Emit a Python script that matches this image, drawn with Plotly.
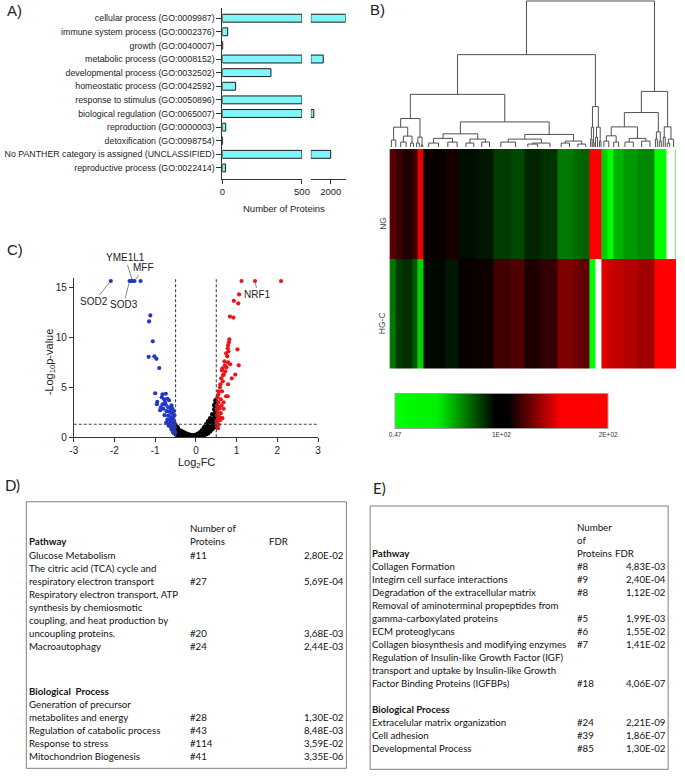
import math

import plotly.graph_objects as go

W, H = 685, 777
ARIAL = "Liberation Sans, Arial, sans-serif"
CALIBRI = "Lato, Carlito, sans-serif"
INK = "#222222"


def fx(p):
    return p / W


def fy(p):
    return 1 - p / H


# ---------------- A) GO biological process counts ----------------
go_terms = [
    "cellular process (GO:0009987)",
    "immune system process (GO:0002376)",
    "growth (GO:0040007)",
    "metabolic process (GO:0008152)",
    "developmental process (GO:0032502)",
    "homeostatic process (GO:0042592)",
    "response to stimulus (GO:0050896)",
    "biological regulation (GO:0065007)",
    "reproduction (GO:0000003)",
    "detoxification (GO:0098754)",
    "No PANTHER category is assigned (UNCLASSIFIED)",
    "reproductive process (GO:0022414)",
]
go_counts = [2150, 33, 2, 1925, 305, 83, 1250, 1830, 21, 1, 2000, 19]
break_low, break_high, axis_top = 500, 1800, 2150

# ---------------- B) heatmap + dendrogram ----------------
block_leaves = [6, 7, 10, 6, 6, 22, 13, 20, 16, 17, 15, 16, 17, 16, 8, 9,
                6, 6, 6, 6, 10, 15, 17, 8, 4, 9, 1]
ng_values = [124, 118, 112, 119, 150, 108, 111, 91, 89, 81, 78, 86, 83, 67, 70, 72,
             200, 200, 47, 5, 54, 60, 64, 0.47, 0.47, None, 10]
hgc_values = [67, 81, 84, 74, 47, 93, 89, 108, 109, 119, 122, 112, 116, 131, 128, 125,
              0.47, None, 150, 146, 144, 141, 138, 200, 200, 200, 200]
row_labels = ["NG", "HG-C"]
# nested [height, left, right]; an int is a leaf cluster of that many columns
dendro_tree = [147,
               [93,
                [53,
                 [28.7,
                  [20, [7, 4, 5], [11, [5, 5, 6], [4, 3, 3]]],
                  [10, [4, 3, 3], [2, 1, 2]]],
                 [25.3,
                  [13.3, [8.7, [4, 10, 10], [5, 9, 10]], [8, [4, 8, 8], [5, 8, 8]]],
                  [12.7, [8, [5, 15, 15], [4, [3, 10, 10], 15]], [6, [4, 8, 9], [3, 8, 8]]]]],
                [40.7, [20, [8, 2, 1], [5, 1, 1]], [20, [10, 2, 2], [6, 2, 1]]]],
               [56,
                [34.7,
                 [20.3, [11.3, [6, 5, 5], [5, 5, 5]], [8.7, [5, 8, 9], [6, 8, 9]]],
                 [15.3, [8, 2, 2], [6, 2, 2]]],
                [20.3, [10, 2, 2], [8, [4, 2, 3], 5]]]]
scale_ticks = [0.47, 100, 200]
scale_labels = ["0.47", "1E+02", "2E+02"]

# ---------------- C) volcano ----------------
fc_cut = 0.5
p_cut = 0.05
down_fc = [-2.09, -1.63, -1.59, -1.56, -1.51, -1.36, -1.12, -1.15, -1.06, -1.16, -1.02, -0.97,
           -0.90, -1.00, -0.95, -0.96, -0.82, -0.74, -0.84, -0.78, -0.70, -0.66, -0.82, -0.74,
           -0.68, -0.62, -0.80, -0.72, -0.65, -0.59, -0.77, -0.68, -0.61, -0.56, -0.70, -0.63,
           -0.57, -0.53, -0.73, -0.64, -0.58, -0.54, -0.67, -0.61, -0.54, -0.56, -0.52, -0.60,
           -0.58, -0.60, -0.55, -0.53, -0.52, -0.51, -0.55, -0.86, -0.88, -0.76]
down_p = [15.65, 15.65, 15.65, 15.65, 15.65, 15.65, 12.2, 11.6, 9.6, 8.05, 8.1, 7.85,
          6.93, 4.4, 3.53, 3.3, 4.3, 4.35, 4.0, 3.8, 3.85, 3.7, 3.3, 3.25,
          3.0, 2.85, 2.85, 2.6, 2.55, 2.4, 2.2, 2.15, 2.0, 1.9, 1.75, 1.7,
          1.6, 1.5, 1.45, 1.4, 1.3, 1.2, 1.15, 1.0, 0.9, 0.7, 0.55, 0.75,
          2.9, 3.2, 2.6, 2.2, 1.0, 0.4, 0.45, 3.0, 2.7, 3.5]
up_fc = [1.12, 1.45, 2.09, 1.06, 0.93, 1.04, 0.835, 0.92, 0.82, 0.81, 0.79, 0.78, 0.80, 0.74,
         0.77, 1.02, 0.70, 0.65, 0.71, 0.79, 1.05, 0.965, 0.88, 0.62, 0.66, 0.79, 0.59, 0.56,
         0.64, 0.74, 0.55, 0.53, 0.61, 0.68, 0.55, 0.52, 0.63, 0.58, 0.68, 0.53, 0.61, 0.52,
         0.58, 0.65, 0.53, 0.59, 0.52, 0.56, 0.52, 0.55, 0.78, 0.72, 0.68, 0.60, 0.57, 0.51,
         0.51, 0.54, 0.67, 0.64, 0.84, 0.75]
up_p = [15.65, 15.65, 15.65, 14.3, 13.66, 13.4, 12.08, 11.98, 9.8, 9.5, 9.2, 8.9, 8.6, 8.4,
        8.1, 8.8, 7.6, 6.9, 7.2, 7.5, 7.2, 6.27, 5.9, 5.9, 5.6, 5.3, 5.0, 4.6,
        4.6, 4.1, 4.3, 4.0, 3.8, 3.5, 3.5, 3.2, 3.2, 2.85, 2.85, 2.5, 2.4, 2.2,
        2.0, 1.9, 1.75, 1.7, 1.4, 1.25, 1.1, 1.9, 4.1, 6.6, 6.3, 5.3, 3.0, 2.8,
        1.6, 0.9, 6.2, 6.7, 7.3, 7.0]
ns_fc = [-0.55, -0.55, -0.55, -0.50, -0.50, -0.50, -0.50, -0.45, -0.45, -0.45, -0.45,
         -0.40, -0.40, -0.40, -0.35, -0.35, -0.35, -0.30, -0.30, -0.30, -0.25, -0.25, -0.25,
         -0.20, -0.20, -0.20, -0.15, -0.15, -0.15, -0.10, -0.10, -0.10, -0.05, -0.05, -0.05,
         0.00, 0.00, 0.00, 0.05, 0.05, 0.05, 0.10, 0.10, 0.10, 0.15, 0.15, 0.15,
         0.20, 0.20, 0.20, 0.20, 0.25, 0.25, 0.25, 0.25, 0.30, 0.30, 0.30, 0.30,
         0.35, 0.35, 0.35, 0.35, 0.40, 0.40, 0.40, 0.40, 0.45, 0.45, 0.45, 0.45, 0.45,
         0.48, 0.48, 0.48, 0.48, 0.48, 0.50, 0.50, 0.50]
ns_p = [0.5, 0.9, 1.1, 0.3, 0.6, 0.9, 1.2, 0.2, 0.5, 0.8, 1.0,
        0.1, 0.4, 0.7, 0.05, 0.3, 0.6, 0.02, 0.25, 0.5, 0.01, 0.2, 0.4,
        0.0, 0.15, 0.3, 0.0, 0.12, 0.25, 0.0, 0.1, 0.2, 0.0, 0.1, 0.2,
        0.02, 0.12, 0.25, 0.04, 0.2, 0.35, 0.08, 0.3, 0.5, 0.12, 0.4, 0.7,
        0.2, 0.5, 0.8, 1.0, 0.3, 0.7, 1.0, 1.3, 0.4, 0.8, 1.2, 1.6,
        0.6, 1.0, 1.5, 1.9, 0.8, 1.3, 1.8, 2.3, 1.0, 1.6, 2.2, 2.8, 3.2,
        1.3, 2.0, 2.6, 3.4, 3.7, 1.5, 2.4, 3.0]
gene_names = ["SOD2", "SOD3", "YME1L1", "MFF", "NRF1"]
gene_fc = [-2.09, -1.63, -1.56, -1.51, 1.45]
gene_p = [15.65, 15.65, 15.65, 15.65, 15.65]

# ---------------- D) / E) enrichment tables ----------------
d_path_names = ["Glucose Metabolism",
                "The citric acid (TCA) cycle and\nrespiratory electron transport",
                "Respiratory electron transport, ATP\nsynthesis by chemiosmotic\n"
                "coupling, and heat production by\nuncoupling proteins.",
                "Macroautophagy"]
d_path_counts = ["#11", "#27", "#20", "#24"]
d_path_fdr = ["2,80E-02", "5,69E-04", "3,68E-03", "2,44E-03"]
d_proc_names = ["Generation of precursor\nmetabolites and energy",
                "Regulation of catabolic process", "Response to stress",
                "Mitochondrion Biogenesis"]
d_proc_counts = ["#28", "#43", "#114", "#41"]
d_proc_fdr = ["1,30E-02", "8,48E-03", "3,59E-02", "3,35E-06"]

e_path_names = ["Collagen Formation", "Integirn cell surface interactions",
                "Degradation of the extracellular matrix",
                "Removal of aminoterminal propeptides from\ngamma-carboxylated proteins",
                "ECM proteoglycans", "Collagen biosynthesis and modifying enzymes",
                "Regulation of Insulin-like Growth Factor (IGF)\ntransport and uptake by Insulin-like Growth\n"
                "Factor Binding Proteins (IGFBPs)"]
e_path_counts = ["#8", "#9", "#8", "#5", "#6", "#7", "#18"]
e_path_fdr = ["4,83E-03", "2,40E-04", "1,12E-02", "1,99E-03", "1,55E-02", "1,41E-02", "4,06E-07"]
e_proc_names = ["Extracelular matrix organization", "Cell adhesion", "Developmental Process"]
e_proc_counts = ["#24", "#39", "#85"]
e_proc_fdr = ["2,21E-09", "1,86E-07", "1,30E-02"]

fig = go.Figure()
ann = []
shapes = []


def label(text, x, y, size, family=ARIAL, color=INK, angle=0, xanchor="center"):
    # paper-pixel positioned text; anchors set explicitly so 'auto' never shifts it
    ann.append(dict(text=text, x=fx(x), y=fy(y), xref="paper", yref="paper", xanchor=xanchor,
                    yanchor="middle", textangle=angle, showarrow=False, borderpad=0,
                    font=dict(family=family, size=size, color=color)))


# ---- A) broken-axis bar chart
bar_style = dict(color="#80f6fb", line=dict(color="#1a1a1a", width=1))
fig.add_trace(go.Bar(x=[min(v, break_low) for v in go_counts], y=go_terms, orientation="h",
                     xaxis="x", yaxis="y", width=0.58, marker=bar_style, hoverinfo="skip"))
fig.add_trace(go.Bar(x=[min(v, axis_top) - break_high if v > break_high else None for v in go_counts],
                     y=go_terms, base=break_high, orientation="h", xaxis="x2", yaxis="y",
                     width=0.58, marker=bar_style, hoverinfo="skip"))
label("Number of Proteins", 285, 210, 9.5)

# ---- B) dendrogram
seg_x, seg_y = [], []


def walk(node, start):
    if not isinstance(node, list):
        return start + node / 2, 0.0, start + node
    h, left, right = node
    xl, hl, nxt = walk(left, start)
    xr, hr, nxt = walk(right, nxt)
    seg_x.extend([xl, xl, xr, xr, None])
    seg_y.extend([hl, h, h, hr, None])
    return (xl + xr) / 2, h, nxt


walk(dendro_tree, 0)
n_leaves = sum(block_leaves)
fig.add_trace(go.Scatter(x=seg_x, y=seg_y, mode="lines", xaxis="x3", yaxis="y2",
                         line=dict(color="#505050", width=1), hoverinfo="skip"))

edges = [0]
for n in block_leaves:
    edges.append(edges[-1] + n)
fig.add_trace(go.Heatmap(
    z=[ng_values, hgc_values], x=edges, y=[0, 1], xaxis="x4", yaxis="y3",
    zmin=0.47, zmax=200, hoverinfo="skip",
    colorscale=[[0, "#00ff00"], [0.2, "#00f000"], [0.47, "#000000"], [0.53, "#000000"],
                [0.78, "#ff0000"], [1, "#ff0000"]],
    colorbar=dict(orientation="h", x=fx(506.5), xanchor="center", y=fy(417.5), yanchor="middle",
                  lenmode="pixels", len=213, thickness=35, outlinewidth=1, outlinecolor="#a0a0a0",
                  tickvals=scale_ticks, ticktext=scale_labels, ticks="", ticklabelposition="outside",
                  tickfont=dict(family=ARIAL, size=6.5, color="#333"), xpad=0, ypad=0)))
for i, lab in enumerate(row_labels):
    label(lab, 385, 225 + 100 * i, 8.5, color="#444", angle=-90)

# ---- C) volcano
fig.add_trace(go.Scatter(x=ns_fc, y=ns_p, mode="markers", xaxis="x5", yaxis="y4",
                         marker=dict(color="#000000", size=4.5), hoverinfo="skip"))
fig.add_trace(go.Scatter(x=down_fc, y=down_p, mode="markers", xaxis="x5", yaxis="y4",
                         marker=dict(color="#2236c8", size=4.2), hoverinfo="skip"))
fig.add_trace(go.Scatter(x=up_fc, y=up_p, mode="markers", xaxis="x5", yaxis="y4",
                         marker=dict(color="#e8161b", size=4.2), hoverinfo="skip"))
p_line = -math.log10(p_cut)
dash = dict(color="#444", width=1.1, dash="3px,2px")
for v in (-fc_cut, fc_cut):
    shapes.append(dict(type="line", xref="x5", yref="y4", x0=v, x1=v, y0=0, y1=16, line=dash))
shapes.append(dict(type="line", xref="x5", yref="y4", x0=-3, x1=3, y0=p_line, y1=p_line, line=dash))

label_offsets = [(-17, 21), (-6, 24), (-7, -23), (9, -13), (3, 14)]
for name, gx, gy, (ox, oy) in zip(gene_names, gene_fc, gene_p, label_offsets):
    ann.append(dict(text=name, x=gx, y=gy, xref="x5", yref="y4", ax=ox, ay=oy, showarrow=True,
                    arrowhead=0, arrowwidth=0.7, arrowcolor="#555", standoff=2,
                    font=dict(family=ARIAL, size=10, color=INK)))
label("Log<sub>2</sub>FC", 195.5, 466.5, 11)
label("-Log<sub>10</sub>p-value", 46.5, 364, 11, angle=-90)


# ---- D) / E) tables
def add_table(left, count_x, fdr_x, right, top_y, step, header, sections, gap, box):
    def txt(s, x, k, anchor="left", bold=False):
        label("<b>%s</b>" % s if bold else s, x, top_y + step * k, 9.7,
              family=CALIBRI, color="#111", xanchor=anchor)

    for k, s in enumerate(header):
        txt(s, count_x, k - len(header) + 1)
    txt("FDR", fdr_x, 0)
    line = 0
    for si, (title, names, counts, fdrs) in enumerate(sections):
        if si > 0:
            line += gap
        txt(title, left, line, bold=True)
        line += 1
        for name, c, f in zip(names, counts, fdrs):
            parts = name.split("\n")
            for j, part in enumerate(parts):
                txt(part, left, line + j)
            txt(c, count_x, line + len(parts) - 1)
            txt(f, right, line + len(parts) - 1, anchor="right")
            line += len(parts)
    shapes.append(dict(type="rect", xref="paper", yref="paper", x0=fx(box[0]), x1=fx(box[1]),
                       y0=fy(box[3]), y1=fy(box[2]), line=dict(color="#808080", width=1)))


add_table(24, 188.3, 268.3, 347.5, 545, 13.1, ["Number of", "Proteins"],
          [("Pathway", d_path_names, d_path_counts, d_path_fdr),
           ("Biological\u00a0 Process", d_proc_names, d_proc_counts, d_proc_fdr)],
          2.5, (22.7, 348.5, 505, 773.3))
add_table(374, 582.3, 620.5, 675, 556.7, 13.05, ["Number", "of", "Proteins"],
          [("Pathway", e_path_names, e_path_counts, e_path_fdr),
           ("Biological Process", e_proc_names, e_proc_counts, e_proc_fdr)],
          1, (372.7, 676, 509.3, 774.3))

for letter, x, y, fam in [("A)", 2, 11, ARIAL), ("B)", 371, 10, ARIAL), ("C)", 2, 251, ARIAL),
                          ("D)", 0, 488, CALIBRI), ("E)", 375, 491, CALIBRI)]:
    label(letter, x, y, 15, family=fam, xanchor="left")

axis_common = dict(showline=True, linecolor="#333", linewidth=1, ticks="outside", tickcolor="#333",
                   ticklen=4, showgrid=False, zeroline=False, fixedrange=True)
hidden = dict(visible=False, showgrid=False, zeroline=False, fixedrange=True)

fig.update_layout(
    width=W, height=H, margin=dict(l=0, r=0, t=0, b=0), showlegend=False,
    plot_bgcolor="white", paper_bgcolor="white",
    xaxis=dict(domain=[fx(222.3), fx(303.3)], range=[0, break_low], anchor="y", tickvals=[0, break_low],
               tickfont=dict(family=ARIAL, size=9.5, color=INK), **axis_common),
    xaxis2=dict(domain=[fx(312.3), fx(347.7)], range=[break_high, axis_top], anchor="y",
                tickvals=[2000], tickfont=dict(family=ARIAL, size=9.5, color=INK), **axis_common),
    yaxis=dict(domain=[fy(180), fy(8.3)], range=[11.8, -0.73], anchor="x", type="category",
               categoryorder="array", categoryarray=go_terms, ticklen=5, ticks="outside",
               showline=True, linecolor="#333", tickcolor="#333", showgrid=False, zeroline=False,
               fixedrange=True, tickfont=dict(family=ARIAL, size=8.8, color=INK)),
    xaxis3=dict(domain=[fx(392.3), fx(684)], range=[0, n_leaves], anchor="y2", **hidden),
    yaxis2=dict(domain=[fy(148), fy(0)], range=[0, 148], anchor="x3", **hidden),
    xaxis4=dict(domain=[fx(392.3), fx(684)], range=[0, n_leaves], anchor="y3", **hidden),
    yaxis3=dict(domain=[fy(371), fy(150)], range=[1.5, -0.5], anchor="x4", **hidden),
    xaxis5=dict(domain=[fx(71), fx(319.7)], range=[-3, 3], anchor="y4", tickvals=[-3, -2, -1, 0, 1, 2, 3],
                ticktext=["-3", "-2", "-1", "0", "1", "2", "3"],
                tickfont=dict(family=ARIAL, size=10, color=INK), **axis_common),
    yaxis4=dict(domain=[fy(440), fy(279.3)], range=[0, 16], anchor="x5", tickvals=[0, 5, 10, 15],
                tickfont=dict(family=ARIAL, size=10, color=INK), **axis_common),
    annotations=ann, shapes=shapes,
)

fig.write_html("out.html", config={"displayModeBar": False},
               post_script="document.body.style.margin='0';document.body.style.overflow='hidden';")
